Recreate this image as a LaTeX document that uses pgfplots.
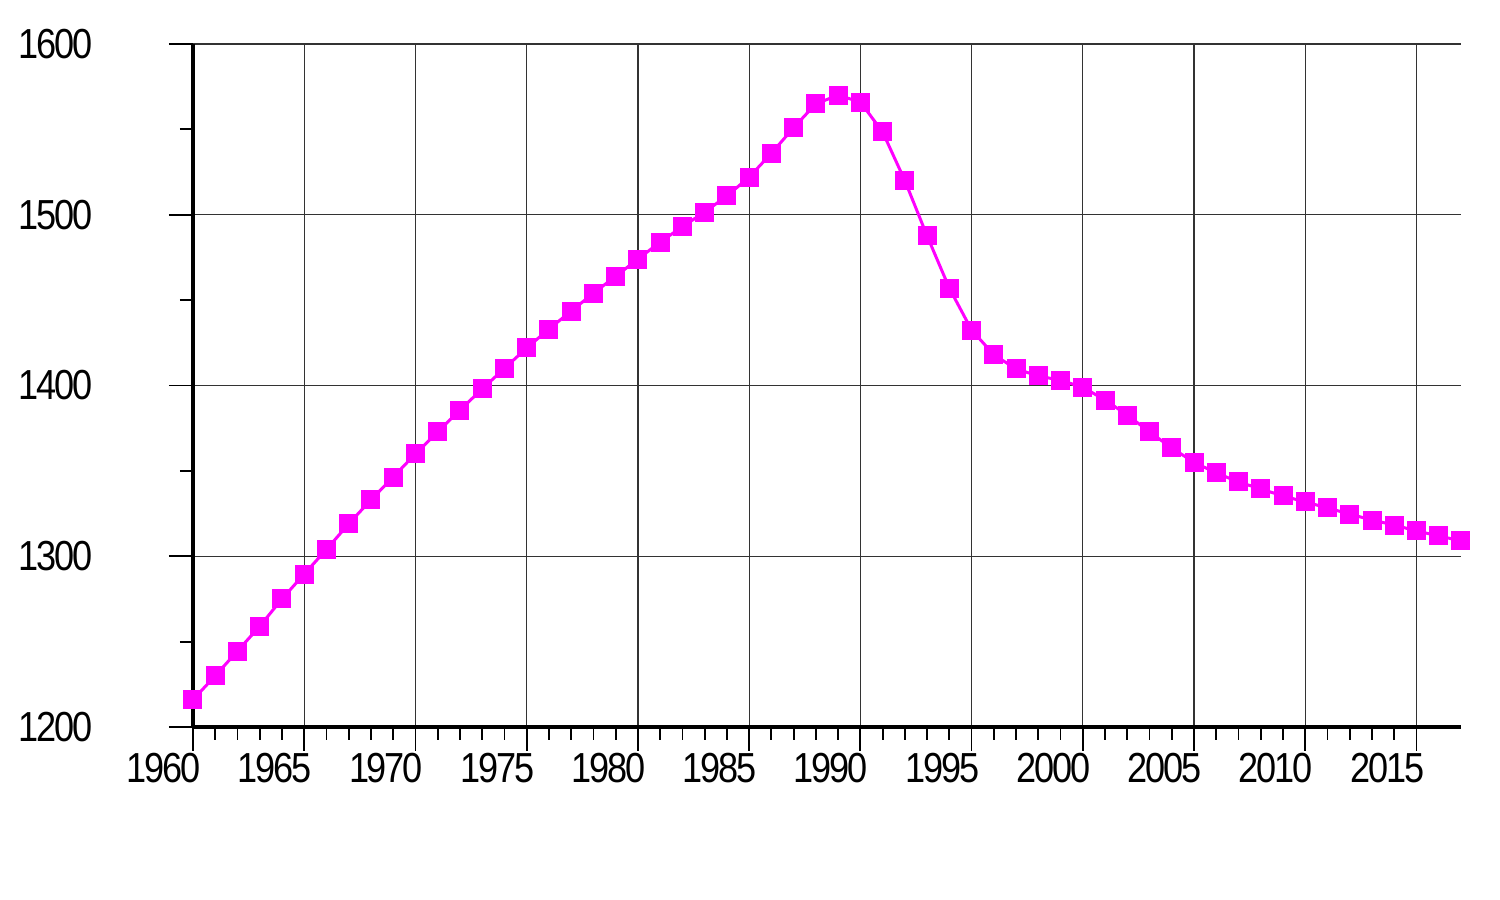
\documentclass[border=0pt]{standalone}
\usepackage{pgfplots}
\pgfplotsset{compat=1.18}
\usepackage{fontspec}
\setmainfont{Liberation Sans}[FakeStretch=0.86, LetterSpace=-5]
\definecolor{mag}{RGB}{255,0,255}
\begin{document}
\begin{tikzpicture}
\path[use as bounding box] (0,0) rectangle (750pt,450pt);
\begin{axis}[
  at={(96.5pt,86.5pt)}, anchor=south west,
  scale only axis, width=634pt, height=341.5pt,
  xmin=1960, xmax=2017, ymin=1200, ymax=1600,
  axis x line*=bottom, axis y line*=left,
  axis line style={line width=2pt, black, -},
  xtick={1960,1965,...,2015}, ytick={1200,1300,...,1600},
  minor x tick num=4, minor y tick num=1,
  tick align=outside,
  major tick length=12pt, minor tick length=6.5pt,
  every tick/.style={black, line width=0.9pt},
  grid=major,
  major grid style={black!80, line width=0.6pt},
  clip=false,
  /pgf/number format/1000 sep={},
  /pgf/number format/assume math mode=true,
  tick label style={font=\fontsize{21}{24}\selectfont, inner sep=0pt},
  xticklabel style={anchor=north east, xshift=4pt, yshift=-1pt},
  yticklabel style={anchor=east, xshift=-38pt},
]
\addplot[mag, line width=1.5pt, mark=square*, mark size=4pt, mark options={solid, fill=mag, draw=mag}] coordinates {
(1960,1216) (1961,1230) (1962,1244.5) (1963,1259) (1964,1275) (1965,1289.6)
(1966,1304) (1967,1319) (1968,1333) (1969,1346.4) (1970,1360) (1971,1372.8)
(1972,1385.6) (1973,1398) (1974,1410) (1975,1422) (1976,1433) (1977,1443.6)
(1978,1454) (1979,1464) (1980,1474) (1981,1484) (1982,1493) (1983,1501.6)
(1984,1511) (1985,1522) (1986,1536) (1987,1551) (1988,1565) (1989,1570)
(1990,1566) (1991,1548.5) (1992,1520) (1993,1487.6) (1994,1457) (1995,1432.5)
(1996,1418) (1997,1409.7) (1998,1405.6) (1999,1403) (2000,1399) (2001,1391.5)
(2002,1382.7) (2003,1372.8) (2004,1363.4) (2005,1355) (2006,1348.8) (2007,1343.5)
(2008,1339.4) (2009,1335.3) (2010,1331.8) (2011,1328.3) (2012,1324.7) (2013,1321.2)
(2014,1318.3) (2015,1314.8) (2016,1311.9) (2017,1309)
};
\end{axis}
\end{tikzpicture}
\end{document}
